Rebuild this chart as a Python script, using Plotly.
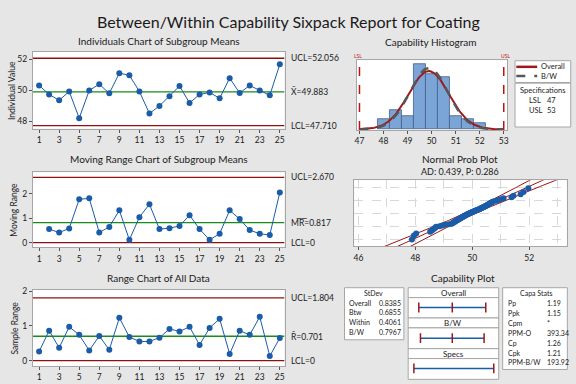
import plotly.graph_objects as go
from statistics import NormalDist
import math

# ---------------- data ----------------
subgroups = list(range(1, 26))
means = [50.30, 49.72, 49.34, 49.91, 48.19, 49.98, 50.38, 49.79, 51.09, 50.96,
         49.91, 48.49, 48.98, 49.60, 50.26, 49.17, 49.72, 49.85, 49.47, 50.77,
         49.81, 50.30, 49.98, 49.66, 51.66]
mr_x = list(range(2, 26))
moving_ranges = [0.55, 0.41, 0.58, 1.77, 1.81, 0.41, 0.64, 1.32, 0.11, 1.04,
                 1.57, 0.55, 0.59, 0.68, 1.12, 0.55, 0.11, 0.36, 1.32, 0.96,
                 0.51, 0.36, 0.31, 2.05]
ranges = [0.26, 0.86, 0.37, 0.97, 0.74, 0.29, 0.71, 0.31, 1.23, 0.68,
          0.55, 0.55, 0.66, 0.91, 0.84, 0.97, 0.45, 0.94, 1.20, 0.19,
          0.86, 0.74, 1.26, 0.13, 0.65]
all_data = [47.88, 47.95, 48.03,
            48.52, 48.58, 48.62, 48.66, 48.70, 48.73,
            48.85, 48.95, 49.05, 49.18,
            49.27, 49.30, 49.33, 49.36, 49.38, 49.41, 49.44, 49.46, 49.49, 49.51,
            49.53, 49.56, 49.58, 49.60, 49.63, 49.65, 49.67, 49.69, 49.71, 49.74,
            49.76, 49.78, 49.81, 49.84, 49.86, 49.89, 49.92, 49.94, 49.97, 50.00,
            50.03, 50.06, 50.09, 50.12, 50.15, 50.19, 50.23,
            50.26, 50.29, 50.32, 50.35, 50.38, 50.41, 50.44, 50.47, 50.50, 50.53,
            50.56, 50.59, 50.62, 50.65, 50.69, 50.73,
            50.84, 50.92, 51.00, 51.10,
            51.38, 51.45, 51.70,
            51.80, 51.97]

x_ucl, x_bar, x_lcl = 52.056, 49.883, 47.710
mr_ucl, mr_bar, mr_lcl = 2.670, 0.817, 0
r_ucl, r_bar, r_lcl = 1.804, 0.701, 0
LSL, USL = 47, 53
sd_overall, sd_btw, sd_within, sd_bw = 0.8385, 0.6855, 0.4061, 0.7967
stdev_labels = ["Overall", "Btw", "Within", "B/W"]
stdev_values = ["0.8385", "0.6855", "0.4061", "0.7967"]
capa_labels = ["Pp", "Ppk", "Cpm", "PPM-O", "Cp", "Cpk", "PPM-B/W"]
capa_values = ["1.19", "1.15", "*", "393.34", "1.26", "1.21", "193.92"]

# ---------------- style ----------------
W, H = 576, 384
BG = "#E6E6E6"
BLUE = "#1B5CA8"
RED = "#8E1010"
GREEN = "#1A8A1A"
FRAME = "#A6A6A6"
TXT = "#1A1A1A"
FONT = "Lato"

def fx(p): return p / W
def fy(p): return 1 - p / H

fig = go.Figure()
ann = []
shapes = []

def text(t, x, y, size=9, xa="center", ya="middle", color=TXT, angle=0):
    ann.append(dict(text=t, x=fx(x), y=fy(y), xref="paper", yref="paper", showarrow=False,
                    xanchor=xa, yanchor=ya, font=dict(size=size, color=color, family=FONT), textangle=angle))

def box(x0, y0, x1, y1):
    shapes.append(dict(type="rect", xref="paper", yref="paper", x0=fx(x0), x1=fx(x1),
                       y0=fy(y1), y1=fy(y0), line=dict(color=FRAME, width=1), fillcolor="white", layer="below"))

axis_common = dict(showline=True, mirror=True, linecolor=FRAME, linewidth=1, showgrid=False,
                   zeroline=False, ticks="outside", ticklen=3, tickcolor="#555",
                   tickfont=dict(size=8.5, color=TXT, family=FONT))

L = {}
# control charts
cc_x = (31, 284)
panels = [(1, (48, 126), [47.51, 52.49], [48, 50, 52]),
          (2, (170, 246), [-0.2, 2.88], [0, 1, 2]),
          (3, (289, 366), [-0.16, 2.03], [0, 1, 2])]
for i, ypx, yr, tv in panels:
    L[f"xaxis{i}"] = dict(axis_common, domain=[fx(cc_x[0]), fx(cc_x[1])], range=[0.375, 25.47],
                          tickvals=list(range(1, 26, 2)), anchor=f"y{i}")
    L[f"yaxis{i}"] = dict(axis_common, domain=[fy(ypx[1]), fy(ypx[0])], range=yr, tickvals=tv,
                          anchor=f"x{i}")

def hline(ax, yv, color):
    fig.add_trace(go.Scatter(x=[0.375, 25.47], y=[yv, yv], mode="lines", line=dict(color=color, width=1.3),
                             xaxis=f"x{ax}", yaxis=f"y{ax}", hoverinfo="skip"))

for ax, lims in [(1, (x_ucl, x_bar, x_lcl)), (2, (mr_ucl, mr_bar, mr_lcl)), (3, (r_ucl, r_bar, r_lcl))]:
    hline(ax, lims[0], RED)
    hline(ax, lims[1], GREEN)
    hline(ax, lims[2], RED)

mk = dict(color=BLUE, size=6)
fig.add_trace(go.Scatter(x=subgroups, y=means, mode="lines+markers", line=dict(color=BLUE, width=1),
                         marker=mk, xaxis="x1", yaxis="y1"))
fig.add_trace(go.Scatter(x=mr_x, y=moving_ranges, mode="lines+markers", line=dict(color=BLUE, width=1),
                         marker=mk, xaxis="x2", yaxis="y2"))
fig.add_trace(go.Scatter(x=subgroups, y=ranges, mode="lines+markers", line=dict(color=BLUE, width=1),
                         marker=mk, xaxis="x3", yaxis="y3"))

# control chart titles, labels
text("Individuals Chart of Subgroup Means", 157.5, 37.5, size=10)
text("Moving Range Chart of Subgroup Means", 157.5, 156.5, size=10)
text("Range Chart of All Data", 157.5, 276.5, size=10)
text("Individual Value", 10, 87, size=8.5, angle=-90)
text("Moving Range", 12, 208, size=8.5, angle=-90)
text("Sample Range", 13, 327, size=8.5, angle=-90)
lab = 8.5
def rlab(t, yv, ax):
    ann.append(dict(text=t, x=fx(289), y=yv, xref="paper", yref=f"y{ax}", showarrow=False,
                    xanchor="left", yanchor="middle", font=dict(size=lab, color=TXT, family=FONT)))
rlab(f"UCL={x_ucl:.3f}", x_ucl, 1)
rlab(f"X\u0304={x_bar:.3f}", x_bar, 1)
rlab(f"LCL={x_lcl:.3f}", x_lcl, 1)
rlab(f"UCL={mr_ucl:.3f}", mr_ucl, 2)
rlab(f"M\u0305R\u0305={mr_bar:.3f}", mr_bar, 2)
rlab(f"LCL={mr_lcl}", mr_lcl, 2)
rlab(f"UCL={r_ucl:.3f}", r_ucl, 3)
rlab(f"R\u0304={r_bar:.3f}", r_bar, 3)
rlab(f"LCL={r_lcl}", r_lcl, 3)

# ---------------- histogram ----------------
L["xaxis4"] = dict(axis_common, domain=[fx(356.7), fx(508)], range=[46.89, 53.15], tickvals=list(range(47, 54)),
                   anchor="y4")
L["yaxis4"] = dict(axis_common, domain=[fy(127.3), fy(56.7)], range=[-0.2, 21.2], showticklabels=False,
                   ticks="", anchor="x4")
fig.add_trace(go.Histogram(x=all_data, xbins=dict(start=47.75, end=52.25, size=0.5),
                           marker=dict(color="#7BA5D6", line=dict(color="#44608A", width=0.8)),
                           xaxis="x4", yaxis="y4"))
n = len(all_data)
curve_x = [47 + k * 0.05 for k in range(121)]
def pdf(x, m, s): return math.exp(-0.5 * ((x - m) / s) ** 2) / (s * math.sqrt(2 * math.pi))
fig.add_trace(go.Scatter(x=curve_x, y=[n * 0.5 * pdf(v, x_bar, sd_overall) for v in curve_x], mode="lines",
                         line=dict(color="#9E1A1A", width=2), xaxis="x4", yaxis="y4"))
fig.add_trace(go.Scatter(x=curve_x, y=[n * 0.5 * pdf(v, x_bar, sd_bw) for v in curve_x], mode="lines",
                         line=dict(color="#575757", width=2.5, dash="dash"), xaxis="x4", yaxis="y4"))
for sv in (LSL, USL):
    shapes.append(dict(type="line", xref="x4", yref="y4 domain", x0=sv, x1=sv, y0=0, y1=1,
                       line=dict(color="#C01010", width=1.5, dash="dash")))
text("Capability Histogram", 431.7, 38.3, size=10)
text("LSL", 358.3, 52.5, size=5, color="#C01010")
text("USL", 505.7, 52.5, size=5, color="#C01010")
# legend box
box(515.7, 57.3, 571.7, 79.3)
box(515.7, 80, 571.7, 124.3)
shapes.append(dict(type="line", xref="paper", yref="paper", x0=fx(517), x1=fx(538), y0=fy(63.5), y1=fy(63.5),
                   line=dict(color="#9E1A1A", width=2.5)))
shapes.append(dict(type="line", xref="paper", yref="paper", x0=fx(517), x1=fx(538), y0=fy(72.8), y1=fy(72.8),
                   line=dict(color="#575757", width=2.5, dash="dash")))
text("Overall", 539.5, 63.5, size=7.5, xa="left")
text("B/W", 539.5, 72.8, size=7.5, xa="left")
text("Specifications", 543.7, 87.5, size=7.5)
text("LSL", 528, 97.7, size=7.5, xa="left")
text(str(LSL), 546, 97.7, size=7.5, xa="left")
text("USL", 528, 107.7, size=7.5, xa="left")
text(str(USL), 546, 107.7, size=7.5, xa="left")

# ---------------- normal probability plot ----------------
L["xaxis5"] = dict(axis_common, domain=[fx(354), fx(567.7)], range=[45.85, 53.32], tickvals=[46, 48, 50, 52],
                   anchor="y5", showgrid=False)
L["yaxis5"] = dict(axis_common, domain=[fy(245), fy(178)], range=[-3.0, 3.1], showticklabels=False,
                   ticks="", anchor="x5", showgrid=True, gridcolor="#D8D8D8", griddash="dash",
                   tickvals=[-2.4, -1.2, 0, 1.2, 2.4])
L["xaxis6"] = dict(domain=[fx(354), fx(567.7)], range=[45.85, 53.32], tickvals=list(range(46, 54)),
                   showgrid=True, gridcolor="#D8D8D8", griddash="dash", showticklabels=False, ticks="",
                   zeroline=False, overlaying="x5", anchor="y5", showline=False)
nd = NormalDist()
srt = sorted(all_data)
zq = [nd.inv_cdf((i + 1 - 0.3) / (n + 0.4)) for i in range(n)]
zz = [-3.3 + k * 0.1 for k in range(67)]
fit = [x_bar + z * sd_overall for z in zz]
half = [1.96 * sd_overall * math.sqrt(1 / n + z * z / (2 * (n - 1))) for z in zz]
fig.add_trace(go.Scatter(x=[0], y=[0], mode="markers", marker=dict(size=0.1, opacity=0), xaxis="x6", yaxis="y5"))
for line_x in (fit, [f - h for f, h in zip(fit, half)], [f + h for f, h in zip(fit, half)]):
    fig.add_trace(go.Scatter(x=line_x, y=zz, mode="lines", line=dict(color="#A01515", width=1),
                             xaxis="x5", yaxis="y5"))
fig.add_trace(go.Scatter(x=srt, y=zq, mode="markers", marker=dict(color=BLUE, size=6), xaxis="x5", yaxis="y5"))
text("Normal Prob Plot", 460, 156.5, size=10)
text("AD: 0.439, P: 0.286", 460, 169.5, size=9)

# ---------------- capability plot ----------------
small = 7
text("Capability Plot", 463.3, 276.5, size=10)
box(344.3, 286.7, 404, 339.3)
text("StDev", 373.3, 292.5, size=small)
for k, (lb, vv) in enumerate(zip(stdev_labels, stdev_values)):
    text(lb, 346.5, 301.7 + 10 * k, size=small, xa="left")
    text(vv, 377, 301.7 + 10 * k, size=small, xa="left")
box(503.3, 286.7, 568.3, 369.3)
text("Capa Stats", 536.7, 292.5, size=small)
for k, (lb, vv) in enumerate(zip(capa_labels, capa_values)):
    text(lb, 506.5, 302.5 + 9.95 * k, size=small, xa="left")
    text(vv, 546, 302.5 + 9.95 * k, size=small, xa="left")
mid = (408.3, 499.3)
for (t0, t1, b1, name) in [(286.7, 296.7, 317.3, "Overall"), (317.3, 327.3, 348.3, "B/W"), (348.3, 358.3, 379.3, "Specs")]:
    box(mid[0], t0, mid[1], t1)
    box(mid[0], t1, mid[1], b1)
    text(name, (mid[0] + mid[1]) / 2, (t0 + t1) / 2 + 0.5, size=8)
L["xaxis7"] = dict(domain=[fx(mid[0]), fx(mid[1])], range=[46.57, 53.37], visible=False, anchor="y7")
L["yaxis7"] = dict(domain=[fy(379.3), fy(286.7)], range=[0, 92.6], visible=False, anchor="x7")
intervals = [([x_bar - 3 * sd_overall, x_bar, x_bar + 3 * sd_overall], 72.6),
             ([x_bar - 3 * sd_bw, x_bar, x_bar + 3 * sd_bw], 41.6),
             ([LSL, USL], 11.0)]
for xs, yv in intervals:
    fig.add_trace(go.Scatter(x=[xs[0], xs[-1]], y=[yv, yv], mode="lines", line=dict(color=BLUE, width=1.5),
                             xaxis="x7", yaxis="y7"))
    fig.add_trace(go.Scatter(x=xs, y=[yv] * len(xs), mode="markers",
                             marker=dict(symbol="line-ns", size=7, line=dict(color="#A01515", width=1.5)),
                             xaxis="x7", yaxis="y7"))

# ---------------- title ----------------
text("Between/Within Capability Sixpack Report for Coating", 288, 18, size=16)

fig.update_layout(L)
fig.update_layout(width=W, height=H, margin=dict(l=0, r=0, t=0, b=0), paper_bgcolor=BG, plot_bgcolor="white",
                  showlegend=False, annotations=ann, shapes=shapes, bargap=0, hovermode=False,
                  font=dict(family=FONT, color=TXT))
pin = ("document.documentElement.style.margin='0';document.body.style.margin='0';"
       "document.body.style.overflow='hidden';"
       "var d=document.getElementById('{plot_id}');d.style.position='fixed';"
       "d.style.left='0px';d.style.top='0px';")
fig.write_html("out.html", post_script=pin, config={"displayModeBar": False})
